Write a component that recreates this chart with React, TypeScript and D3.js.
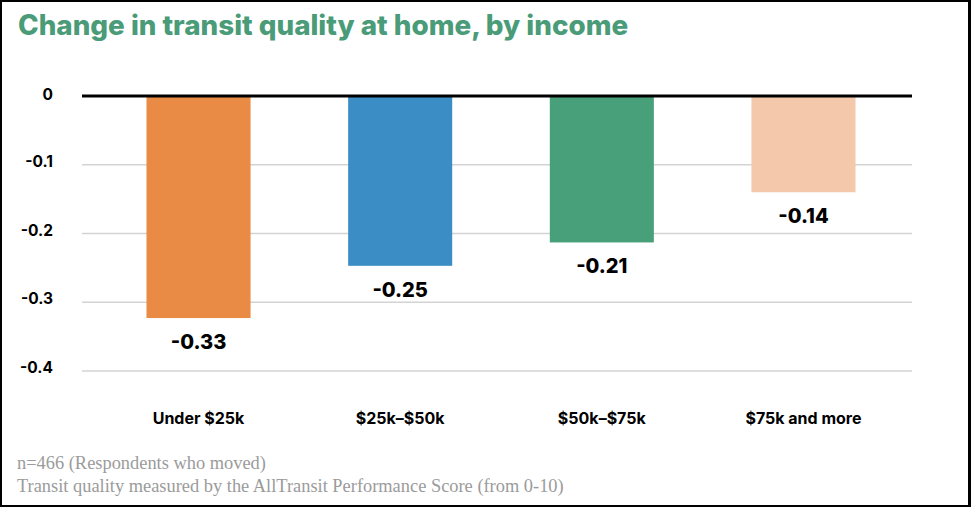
import React from "react";
import * as d3 from "d3";

const categories = ["Under $25k", "$25k–$50k", "$50k–$75k", "$75k and more"];
const values = [-0.323, -0.247, -0.213, -0.14];
const valueLabels = ["-0.33", "-0.25", "-0.21", "-0.14"];
const colors = ["#E98B45", "#3B8DC5", "#48A07A", "#F4C9AB"];
const yTicks = [0, -0.1, -0.2, -0.3, -0.4];
const yTickLabels = ["0", "-0.1", "-0.2", "-0.3", "-0.4"];
const title = "Change in transit quality at home, by income";
const notes = [
  "n=466 (Respondents who moved)",
  "Transit quality measured by the AllTransit Performance Score (from 0-10)",
];

const W = 971;
const H = 507;
const SANS = "Inter, 'Open Sans', sans-serif";

export default function App() {
  const x = d3
    .scaleBand<string>()
    .domain(categories)
    .range([86, 916])
    .paddingInner(0.484)
    .paddingOuter(0.3);
  const y = d3.scaleLinear().domain([-0.4, 0]).range([371, 96]);
  const gridX0 = 82;
  const gridX1 = 912;

  return (
    <div style={{ position: "absolute", left: 0, top: 0 }}>
      <svg width={W} height={H} style={{ display: "block", background: "#fff" }}>
        <rect x={0} y={0} width={W} height={H} fill="#fff" />
        {/* title */}
        <text
          x={18}
          y={35}
          fill="#4A9B78"
          fontFamily={SANS}
          fontWeight={800}
          fontSize={27.8}
        >
          {title}
        </text>
        {/* gridlines */}
        {yTicks.map((t, i) =>
          t === 0 ? null : (
            <line
              key={"g" + i}
              x1={gridX0}
              x2={gridX1}
              y1={y(t)}
              y2={y(t)}
              stroke="#D3D3D3"
              strokeWidth={1.5}
            />
          )
        )}
        {/* y tick labels */}
        {yTicks.map((t, i) => (
          <text
            key={"t" + i}
            x={53}
            y={y(t) + (t === 0 ? 4 : 2)}
            textAnchor="end"
            fontFamily={SANS}
            fontWeight={700}
            fontSize={15.5}
            fill="#000"
          >
            {yTickLabels[i]}
          </text>
        ))}
        {/* bars */}
        {categories.map((c, i) => (
          <rect
            key={"b" + i}
            x={x(c)}
            y={y(0)}
            width={x.bandwidth()}
            height={y(values[i]) - y(0)}
            fill={colors[i]}
          />
        ))}
        {/* zero line */}
        <line
          x1={gridX0}
          x2={gridX1}
          y1={y(0)}
          y2={y(0)}
          stroke="#000"
          strokeWidth={3}
        />
        {/* value labels */}
        {categories.map((c, i) => (
          <text
            key={"v" + i}
            x={(x(c) as number) + x.bandwidth() / 2}
            y={y(values[i]) + 31}
            textAnchor="middle"
            fontFamily={SANS}
            fontWeight={800}
            fontSize={20}
            fill="#000"
          >
            {valueLabels[i]}
          </text>
        ))}
        {/* x labels */}
        {categories.map((c, i) => (
          <text
            key={"x" + i}
            x={(x(c) as number) + x.bandwidth() / 2}
            y={424}
            textAnchor="middle"
            fontFamily={SANS}
            fontWeight={700}
            fontSize={16}
            fill="#000"
          >
            {c}
          </text>
        ))}
        {/* notes */}
        {notes.map((n, i) => (
          <text
            key={"n" + i}
            x={17}
            y={469 + i * 23}
            fontFamily="'Liberation Serif', 'DejaVu Serif', serif"
            fontSize={18.4}
            fill="#9B9B9B"
          >
            {n}
          </text>
        ))}
        {/* border */}
        <rect x={0} y={0} width={W} height={2} fill="#000" />
        <rect x={0} y={0} width={2} height={H} fill="#000" />
        <rect x={968} y={0} width={3} height={H} fill="#000" />
        <rect x={0} y={505} width={W} height={2} fill="#000" />
      </svg>
    </div>
  );
}
